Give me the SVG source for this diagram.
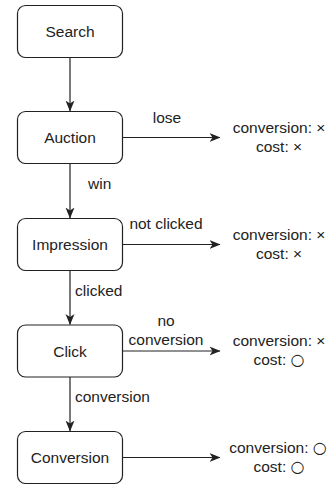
<svg xmlns="http://www.w3.org/2000/svg" width="331" height="486" viewBox="0 0 331 486">
<defs>
<style>
.box{fill:#fff;stroke:#222;stroke-width:1.2}
.t{font-family:"Liberation Sans",Arial,Helvetica,sans-serif;font-size:15.5px;fill:#222}
.m{text-anchor:middle}
.c{font-family:"DejaVu Sans",sans-serif;font-size:16px}
.e{fill:none;stroke:#222;stroke-width:1.2}
.ah{fill:#222;stroke:none}
</style>
<marker id="arr" viewBox="0 0 11 10" refX="10.5" refY="5" markerWidth="11" markerHeight="10" markerUnits="userSpaceOnUse" orient="auto">
<path class="ah" d="M11,5 L0,0.5 L3,5 L0,9.5 Z"/>
</marker>
</defs>
<rect width="331" height="486" fill="#fff"/>
<g id="connectors">
<path class="e" d="M70,57.5 V111" marker-end="url(#arr)"/>
<path class="e" d="M70,163.5 V218" marker-end="url(#arr)"/>
<path class="e" d="M70,270.5 V324.5" marker-end="url(#arr)"/>
<path class="e" d="M70,377 V431" marker-end="url(#arr)"/>
<path class="e" d="M123,137.5 H220" marker-end="url(#arr)"/>
<path class="e" d="M123,244.5 H220" marker-end="url(#arr)"/>
<path class="e" d="M123,351 H220" marker-end="url(#arr)"/>
<path class="e" d="M123,457.5 H220" marker-end="url(#arr)"/>
<text class="t m" x="167" y="123">lose</text>
<text class="t" x="88" y="189">win</text>
<text class="t m" x="166" y="229">not clicked</text>
<text class="t" x="75" y="296">clicked</text>
<text class="t m" x="166" y="326">no</text>
<text class="t m" x="166" y="345">conversion</text>
<text class="t" x="75" y="402">conversion</text>
</g>
<g id="search"><rect class="box" x="17.5" y="5.5" width="105" height="52" rx="8"/><text class="t m" x="70" y="37">Search</text></g>
<g id="auction"><rect class="box" x="17.5" y="111.5" width="105" height="52" rx="8"/><text class="t m" x="70" y="143">Auction</text></g>
<g id="impression"><rect class="box" x="17.5" y="218.5" width="105" height="52" rx="8"/><text class="t m" x="70" y="250">Impression</text></g>
<g id="click"><rect class="box" x="17.5" y="325" width="105" height="52" rx="8"/><text class="t m" x="70" y="356.5">Click</text></g>
<g id="conversion"><rect class="box" x="17.5" y="431.5" width="105" height="52" rx="8"/><text class="t m" x="70" y="463">Conversion</text></g>
<g id="result-lose"><text class="t m" x="279" y="132.5">conversion: ×</text><text class="t m" x="279" y="151.5">cost: ×</text></g>
<g id="result-not-clicked"><text class="t m" x="279" y="239.5">conversion: ×</text><text class="t m" x="279" y="258.5">cost: ×</text></g>
<g id="result-no-conversion"><text class="t m" x="279" y="346">conversion: ×</text><text class="t m" x="279" y="365">cost: <tspan class="c">○</tspan></text></g>
<g id="result-conversion"><text class="t m" x="278" y="452.5">conversion: <tspan class="c">○</tspan></text><text class="t m" x="279" y="471.5">cost: <tspan class="c">○</tspan></text></g>
</svg>
